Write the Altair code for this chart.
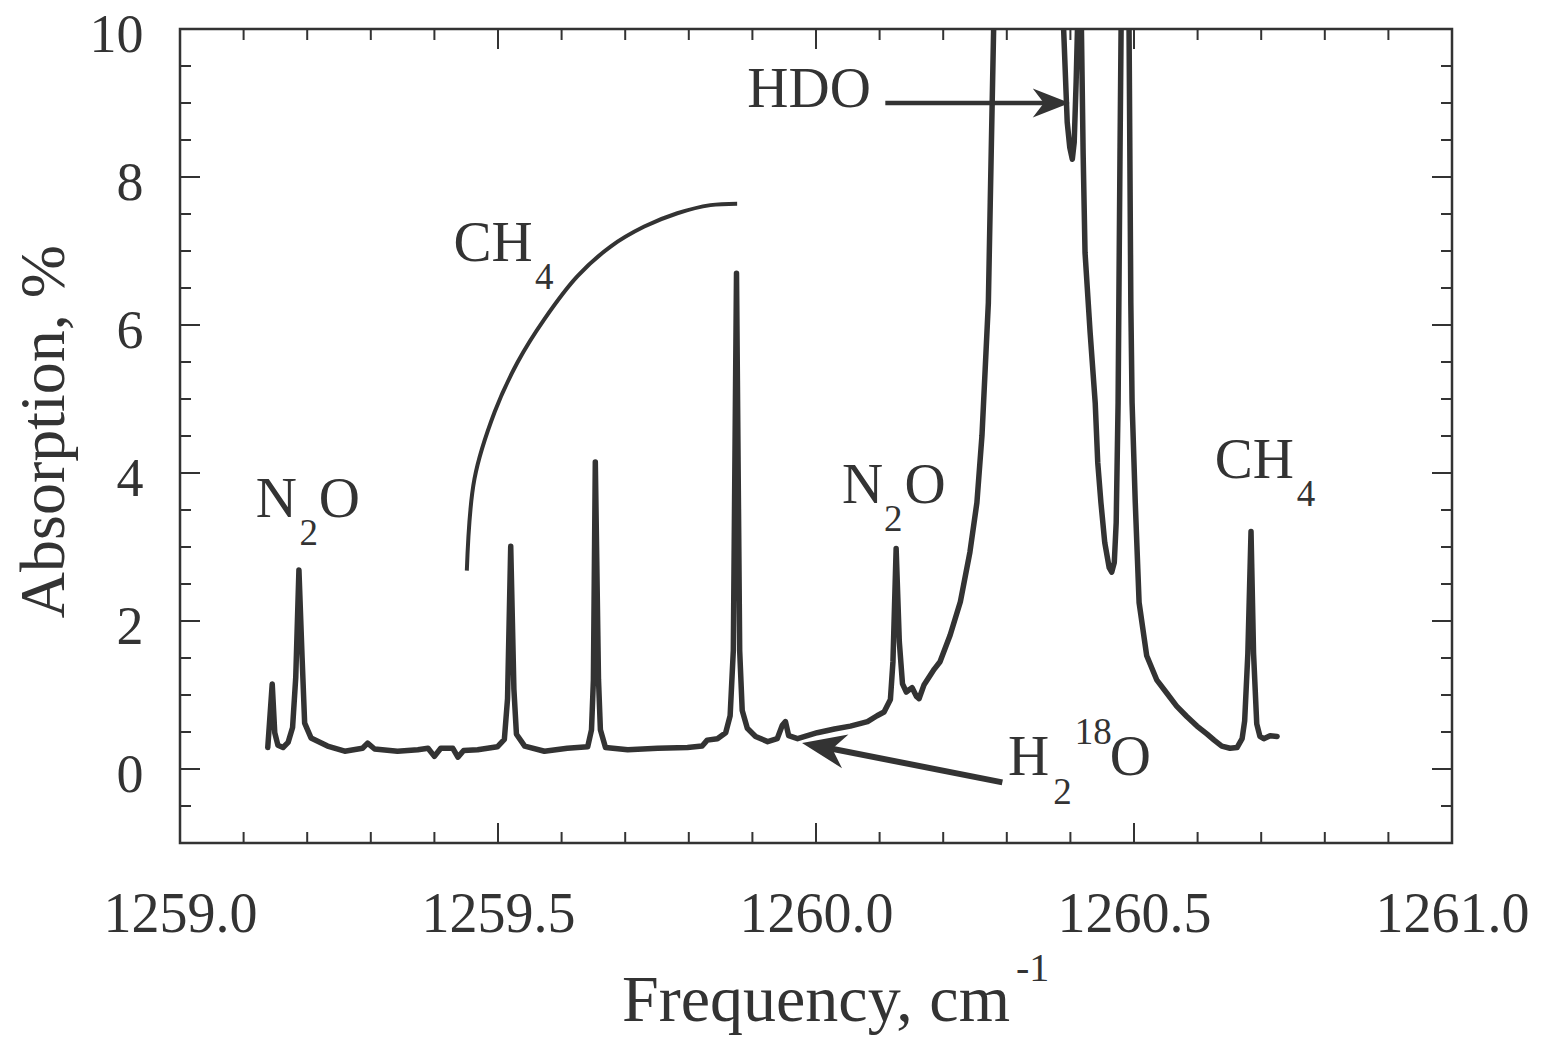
import altair as alt
import pandas as pd

# ---------------- data ----------------
freq = [
    1259.138, 1259.145, 1259.149, 1259.154, 1259.162, 1259.170, 1259.177, 1259.182, 1259.187, 1259.192,
    1259.196, 1259.206, 1259.232, 1259.259, 1259.287, 1259.295, 1259.306, 1259.342, 1259.374, 1259.390,
    1259.400, 1259.410, 1259.429, 1259.437, 1259.446, 1259.468, 1259.499, 1259.510, 1259.515, 1259.520,
    1259.525, 1259.529, 1259.542, 1259.573, 1259.609, 1259.641, 1259.647, 1259.650, 1259.653, 1259.658,
    1259.661, 1259.669, 1259.704, 1259.751, 1259.798, 1259.821, 1259.829, 1259.845, 1259.858, 1259.865,
    1259.870, 1259.875, 1259.880, 1259.884, 1259.892, 1259.905, 1259.924, 1259.939, 1259.947, 1259.952,
    1259.957, 1259.971, 1260.002, 1260.029, 1260.054, 1260.081, 1260.096, 1260.107, 1260.117, 1260.121,
    1260.126, 1260.131, 1260.136, 1260.142, 1260.151, 1260.158, 1260.162, 1260.170, 1260.186, 1260.195,
    1260.211, 1260.227, 1260.242, 1260.253, 1260.261, 1260.266, 1260.271, 1260.274, 1260.277, 1260.280,
    1260.332, 1260.388, 1260.395, 1260.399, 1260.403, 1260.406, 1260.409, 1260.412, 1260.414, 1260.417,
    1260.420, 1260.423, 1260.431, 1260.439, 1260.443, 1260.448, 1260.454, 1260.461, 1260.465, 1260.469,
    1260.472, 1260.475, 1260.478, 1260.480, 1260.486, 1260.492, 1260.495, 1260.497, 1260.502, 1260.508,
    1260.520, 1260.536, 1260.552, 1260.567, 1260.583, 1260.599, 1260.615, 1260.626, 1260.638, 1260.651,
    1260.662, 1260.670, 1260.674, 1260.679, 1260.684, 1260.688, 1260.693, 1260.698, 1260.704, 1260.714,
    1260.725,
]
absorption = [
    0.29, 1.15, 0.49, 0.32, 0.29, 0.36, 0.56, 1.24, 2.69, 1.50,
    0.62, 0.42, 0.31, 0.24, 0.28, 0.35, 0.27, 0.24, 0.26, 0.28,
    0.17, 0.28, 0.28, 0.16, 0.25, 0.26, 0.30, 0.40, 0.95, 3.01,
    1.08, 0.47, 0.31, 0.24, 0.28, 0.30, 0.53, 1.20, 4.15, 1.21,
    0.53, 0.29, 0.26, 0.28, 0.29, 0.31, 0.39, 0.41, 0.49, 0.72,
    1.60, 6.70, 1.60, 0.79, 0.55, 0.44, 0.37, 0.41, 0.59, 0.64,
    0.45, 0.41, 0.49, 0.54, 0.58, 0.64, 0.72, 0.77, 0.94, 1.45,
    2.98, 1.72, 1.15, 1.04, 1.10, 0.98, 0.95, 1.14, 1.35, 1.45,
    1.81, 2.26, 2.93, 3.60, 4.51, 5.40, 6.30, 7.66, 9.00, 10.3,
    14.0, 10.3, 8.74, 8.40, 8.24, 8.47, 9.28, 10.3, 10.6, 10.2,
    8.33, 6.98, 5.90, 4.95, 4.14, 3.60, 3.06, 2.72, 2.66, 2.79,
    3.33, 4.95, 8.33, 10.3, 12.0, 10.3, 6.30, 4.95, 3.60, 2.25,
    1.53, 1.20, 1.02, 0.85, 0.71, 0.58, 0.47, 0.39, 0.31, 0.28,
    0.29, 0.41, 0.65, 1.56, 3.21, 1.56, 0.61, 0.44, 0.41, 0.45,
    0.44,
]

# bracket arc over the CH4 lines
arc_freq = [1259.451, 1259.463, 1259.495, 1259.531, 1259.573, 1259.625,
            1259.677, 1259.730, 1259.782, 1259.834, 1259.876]
arc_abs = [2.68, 3.92, 4.83, 5.50, 6.08, 6.66, 7.06, 7.33, 7.51, 7.62, 7.64]

# axes
x_tick_labels = [1259.0, 1259.5, 1260.0, 1260.5, 1261.0]
y_tick_labels = [0, 2, 4, 6, 8, 10]
x_minor_ticks = [1259.1, 1259.2, 1259.3, 1259.4, 1259.6, 1259.7, 1259.8, 1259.9,
                 1260.1, 1260.2, 1260.3, 1260.4, 1260.6, 1260.7, 1260.8, 1260.9]
y_minor_ticks = [-0.5, 0.5, 1.0, 1.5, 2.5, 3.0, 3.5, 4.5, 5.0, 5.5,
                 6.5, 7.0, 7.5, 8.5, 9.0, 9.5]

# annotation labels (main characters and sub/superscripts)
label_text = ["N", "O", "N", "O", "CH", "CH", "HDO", "H", "O"]
label_x = [1259.119, 1259.218, 1260.041, 1260.139, 1259.430, 1260.627, 1259.892, 1260.302, 1260.462]
label_y = [3.41, 3.41, 3.59, 3.59, 6.86, 3.93, 8.95, -0.08, -0.08]
script_text = ["2", "2", "4", "4", "2", "18"]
script_x = [1259.188, 1260.107, 1259.558, 1260.756, 1260.373, 1260.407]
script_y = [3.03, 3.21, 6.49, 3.55, -0.47, 0.34]

# arrows (shaft start -> shaft end, head tip)
arrow_x = [1260.109, 1260.293]
arrow_y = [9.0, -0.18]
arrow_x2 = [1260.379, 1260.009]
arrow_y2 = [9.0, 0.30]
arrow_w = [4.5, 6.0]
head_x = [1260.399, 1259.978]
head_y = [9.0, 0.35]

# ---------------- chart ----------------
INK = "#333333"
FONT = "Liberation Serif"
W, H = 1272, 814
xs = alt.Scale(domain=[1259.0, 1261.0], nice=False, zero=False)
ys = alt.Scale(domain=[-1, 10], nice=False, zero=False)

X_AXIS = alt.Axis(
    values=x_tick_labels, format=".1f", title=None, ticks=False, tickSize=0,
    domain=False, grid=False, labelPadding=88, labelBaseline="alphabetic",
    labelFontSize=56, labelFont=FONT, labelColor=INK, labelFlush=False,
    labelOverlap=False)
Y_AXIS = alt.Axis(
    values=y_tick_labels, format="d", title="Absorption, %", ticks=False,
    tickSize=0, domain=False, grid=False, labelPadding=37, labelFontSize=54,
    labelOffset=6,
    labelFont=FONT, labelColor=INK, labelFlush=False, labelOverlap=False,
    titleFont=FONT, titleFontSize=64, titleFontWeight="normal", titleColor=INK,
    titleAngle=270, titleX=-117, titleY=402, titleAlign="center",
    titleBaseline="alphabetic")


def X(field):
    return alt.X(field, scale=xs, axis=X_AXIS)


def Y(field):
    return alt.Y(field, scale=ys, axis=Y_AXIS)


spec_df = pd.DataFrame({"i": list(range(len(freq))), "f": freq, "a": absorption})

spectrum = alt.Chart(spec_df).mark_line(
    color=INK, strokeWidth=5.5, strokeJoin="round", strokeCap="round", clip=True
).encode(x=X("f:Q"), y=Y("a:Q"), order="i:Q")

arc = alt.Chart(pd.DataFrame({"i": list(range(len(arc_freq))), "f": arc_freq, "a": arc_abs})).mark_line(
    color=INK, strokeWidth=4, interpolate="catmull-rom", strokeCap="butt"
).encode(x=X("f:Q"), y=Y("a:Q"), order="i:Q")


def tick_rules(values, orient, length):
    df = pd.DataFrame({"v": values})
    base = alt.Chart(df).mark_rule(color=INK, strokeWidth=2)
    if orient == "bottom":
        return base.encode(x=X("v:Q"), y=alt.value(H), y2=alt.value(H - length))
    if orient == "top":
        return base.encode(x=X("v:Q"), y=alt.value(0), y2=alt.value(length))
    if orient == "left":
        return base.encode(y=Y("v:Q"), x=alt.value(0), x2=alt.value(length))
    return base.encode(y=Y("v:Q"), x=alt.value(W), x2=alt.value(W - length))


ticks = [
    tick_rules(x_tick_labels, "bottom", 20), tick_rules(x_tick_labels, "top", 20),
    tick_rules(x_minor_ticks, "bottom", 11), tick_rules(x_minor_ticks, "top", 11),
    tick_rules(y_tick_labels, "left", 20), tick_rules(y_tick_labels, "right", 20),
    tick_rules(y_minor_ticks, "left", 11), tick_rules(y_minor_ticks, "right", 11),
]

labels = alt.Chart(pd.DataFrame({"t": label_text, "x": label_x, "y": label_y})).mark_text(
    font=FONT, fontSize=57, align="left", baseline="alphabetic", color=INK
).encode(x=X("x:Q"), y=Y("y:Q"), text="t:N")

scripts = alt.Chart(pd.DataFrame({"t": script_text, "x": script_x, "y": script_y})).mark_text(
    font=FONT, fontSize=37, align="left", baseline="alphabetic", color=INK
).encode(x=X("x:Q"), y=Y("y:Q"), text="t:N")

shafts = alt.Chart(pd.DataFrame({"x": arrow_x, "y": arrow_y, "x2": arrow_x2, "y2": arrow_y2, "w": arrow_w})).mark_rule(
    color=INK, strokeCap="butt"
).encode(
    x=X("x:Q"), y=Y("y:Q"), x2="x2:Q", y2="y2:Q",
    strokeWidth=alt.StrokeWidth("w:Q", scale=None),
)

HEAD = "M0,0L0.78,2L0,1.4L-0.78,2Z"
head_hdo = alt.Chart(pd.DataFrame({"x": head_x[:1], "y": head_y[:1]})).mark_point(
    shape=HEAD, filled=True, color=INK, opacity=1, size=1369, angle=90, strokeWidth=0
).encode(x=X("x:Q"), y=Y("y:Q"))
head_h2o = alt.Chart(pd.DataFrame({"x": head_x[1:], "y": head_y[1:]})).mark_point(
    shape=HEAD, filled=True, color=INK, opacity=1, size=1936, angle=280.8, strokeWidth=0
).encode(x=X("x:Q"), y=Y("y:Q"))

xtitle = alt.Chart(pd.DataFrame({"t": ["Frequency, cm"]})).mark_text(
    font=FONT, fontSize=66, align="right", baseline="alphabetic", color=INK
).encode(x=alt.value(830), y=alt.value(992), text="t:N")
xtitle_sup = alt.Chart(pd.DataFrame({"t": ["-1"]})).mark_text(
    font=FONT, fontSize=40, align="left", baseline="alphabetic", color=INK
).encode(x=alt.value(836), y=alt.value(952), text="t:N")

chart = alt.layer(
    spectrum, arc, *ticks, shafts, head_hdo, head_h2o, labels, scripts, xtitle, xtitle_sup
).properties(
    width=W, height=H,
    padding={"left": 172, "top": 21, "right": 80, "bottom": 193},
    autosize=alt.AutoSizeParams(type="none"),
    background="white",
).configure_view(stroke=INK, strokeWidth=2.5)

chart.save("out.html", embed_options={"renderer": "svg", "actions": False})
